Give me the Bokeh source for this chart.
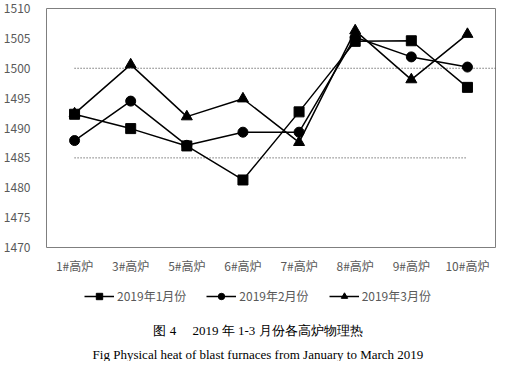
from bokeh.plotting import figure
from bokeh.layouts import column
from bokeh.models import Range1d, FactorRange, Legend, LegendItem, Label, FixedTicker
from bokeh.embed import file_html
from bokeh.resources import INLINE

furnaces = ["1#高炉", "3#高炉", "5#高炉", "6#高炉", "7#高炉", "8#高炉", "9#高炉", "10#高炉"]
jan = [1492.3, 1489.9, 1487.0, 1481.3, 1492.7, 1504.5, 1504.6, 1496.8]
feb = [1487.9, 1494.5, 1487.1, 1489.3, 1489.3, 1505.2, 1501.9, 1500.2]
mar = [1492.4, 1500.6, 1491.9, 1494.9, 1487.6, 1506.3, 1498.1, 1505.7]
series_names = ["2019年1月份", "2019年2月份", "2019年3月份"]
markers = ["square", "circle", "triangle"]
y_ticks = [1470, 1475, 1480, 1485, 1490, 1495, 1500, 1505, 1510]
ref_upper = 1500
ref_lower = 1485
caption_cn = "图 4\u3000 2019 年 1-3 月份各高炉物理热"
caption_en = "Fig Physical heat of blast furnaces from January to March 2019"

GRAY = "#595959"
W = 496
H1 = 276
H2 = 85
p = figure(width=W, height=H1, x_range=FactorRange(*furnaces),
           y_range=Range1d(1470, 1510), output_backend="svg", toolbar_location=None,
           min_border_left=39, min_border_right=1,
           min_border_top=8, min_border_bottom=26)
p.background_fill_color = "white"
p.border_fill_color = "white"
p.outline_line_color = "#7f7f7f"
p.outline_line_width = 1
p.xgrid.visible = False
p.ygrid.visible = False
for ax in (p.xaxis, p.yaxis):
    ax.axis_line_color = None
    ax.major_tick_line_color = None
    ax.minor_tick_line_color = None
    ax.major_label_text_color = GRAY
    ax.major_label_text_font_size = "12px"
    ax.major_label_text_font = "Noto Sans CJK SC"
p.yaxis.ticker = FixedTicker(ticks=y_ticks)
p.yaxis.major_label_standoff = 10
p.xaxis.major_label_standoff = 3

# reference dotted lines
p.segment(x0=[0.5], y0=[ref_upper], x1=[8.0], y1=[ref_upper], line_color="#333333",
          line_width=1, line_dash="1 2")
p.segment(x0=[0.5], y0=[ref_lower], x1=[7.5], y1=[ref_lower], line_color="#333333",
          line_width=1, line_dash="1 2")

sizes = [10, 10, 11]
for vals, marker, size in zip([jan, feb, mar], markers, sizes):
    p.line(furnaces, vals, line_color="black", line_width=1.5)
    p.scatter(furnaces, vals, marker=marker, size=size, fill_color="black", line_color="black")

# lower panel: legend and captions (its frame is aligned with the main frame by the column)
f2 = figure(width=W, height=H2, x_range=Range1d(47, 495), y_range=Range1d(0, H2),
            output_backend="svg", toolbar_location=None,
            x_axis_location=None, y_axis_location=None,
            min_border_left=0, min_border_right=0, min_border_top=0, min_border_bottom=0)
f2.grid.visible = False
f2.outline_line_color = None
items = []
for vals, marker, name in zip([jan, feb, mar], markers, series_names):
    l = f2.line(x=list(range(len(vals))), y=vals, line_color="black", line_width=1.5)
    s = f2.scatter(x=list(range(len(vals))), y=vals, marker=marker, size=8,
                   fill_color="black", line_color="black")
    items.append(LegendItem(label=name, renderers=[l, s], index=0))
legend = Legend(items=items, orientation="horizontal", location=(38, 57),
                glyph_width=30, glyph_height=16, label_text_font_size="12px",
                label_text_color=GRAY, label_text_font="Noto Sans CJK SC",
                spacing=20, padding=0, margin=0, border_line_color=None,
                background_fill_alpha=0, label_standoff=3)
f2.add_layout(legend, "center")

f2.add_layout(Label(x=258, y=31, text=caption_cn, text_align="center", text_baseline="middle",
                    text_font_size="13px", text_color="black", text_font="Liberation Serif"))
f2.add_layout(Label(x=258, y=7, text=caption_en, text_align="center", text_baseline="middle",
                    text_font_size="13px", text_color="black", text_font="Liberation Serif"))

layout = column(p, f2, spacing=0)
open("out.html", "w").write(file_html(layout, INLINE))
